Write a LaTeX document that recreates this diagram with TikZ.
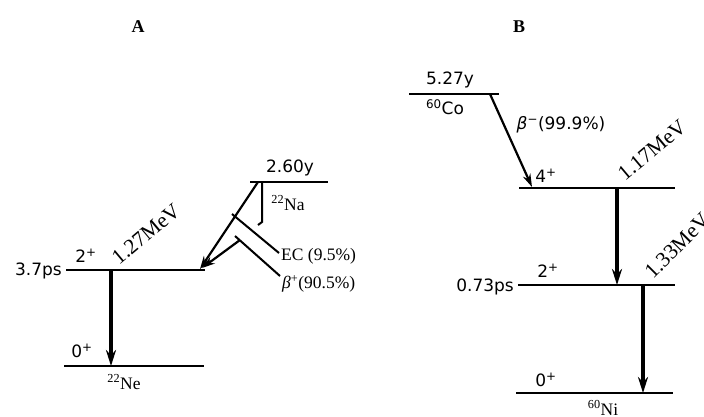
\documentclass[tikz,border=0pt]{standalone}
\usepackage{fontspec}
\setmainfont{Liberation Serif}
\newfontfamily\sansf{DejaVu Sans}
\usetikzlibrary{arrows.meta}
\begin{document}
\begin{tikzpicture}[x=1pt,y=-1pt,
  level/.style={line width=2.8pt},
  trans/.style={line width=3.2pt,-{Stealth[length=16pt,width=10pt]}},
  decay/.style={line width=2.2pt,-{Stealth[length=13pt,width=8pt]}},
  tick/.style={line width=2pt},
  lbl/.style={inner sep=0pt,font=\fontsize{17.5}{20}\selectfont},
  mev/.style={inner sep=0pt,font=\fontsize{21.5}{24}\selectfont},
  slbl/.style={inner sep=0pt,font=\sansf\fontsize{17}{20}\selectfont},
  head/.style={inner sep=0pt,font=\bfseries\fontsize{18}{20}\selectfont},
]
\useasboundingbox (0,0) rectangle (704,416);
% headers
\node[head] (hA) at (138,27) {A};
\node[head] (hB) at (519,27) {B};
% ---------- A ----------
\coordinate (a2l) at (66,270);  \coordinate (a2r) at (205,270);
\coordinate (a0l) at (64,366);  \coordinate (a0r) at (204,366);
\draw[level] (a2l) -- (a2r);
\draw[level] (a0l) -- (a0r);
\coordinate (a2m) at (111,270); \coordinate (a0m) at (111,366);
\draw[trans] (a2m) -- (a0m);
\node[slbl,anchor=east] (t37) at (62,271) {3.7ps};
\node[slbl] (sA2) at (86,256) {2\textsuperscript{+}};
\node[slbl] (sA0) at (82,351) {0\textsuperscript{+}};
\node[lbl] (ne) at (124,382) {\textsuperscript{22}Ne};
\node[mev,rotate=40] (e127) at (146,234) {1.27MeV};
% Na level
\coordinate (nal) at (250,182); \coordinate (nar) at (328,182);
\draw[level] (nal) -- (nar);
\node[slbl] (t260) at (290,168) {2.60y};
\node[lbl] (na) at (288,203) {\textsuperscript{22}Na};
\coordinate (naA) at (258,182); \coordinate (tipA) at (200,269);
\draw[decay] (naA) -- (tipA);
\coordinate (naV) at (262,182); \coordinate (naVb) at (262,222); \coordinate (naVh) at (258,225);
\draw[tick] (naV) -- (naVb) -- (naVh);
\coordinate (ecs) at (232,214); \coordinate (ece) at (279,253);
\draw[tick] (ecs) -- (ece);
\coordinate (bps) at (235,236); \coordinate (bpe) at (280,276);
\draw[tick] (bps) -- (bpe);
\coordinate (bpa) at (240,240); \coordinate (tipB) at (202,268);
\draw[decay] (bpa) -- (tipB);
\node[lbl,anchor=west] (ec) at (281,256) {EC (9.5\%)};
\node[lbl,anchor=west] (bp) at (282,284) {\textit{β}\textsuperscript{+}(90.5\%)};
% ---------- B ----------
\coordinate (col) at (409,94); \coordinate (cor) at (499,94);
\draw[level] (col) -- (cor);
\node[slbl] (t527) at (450,80) {5.27y};
\node[slbl] (co) at (445,107) {\textsuperscript{60}Co};
\coordinate (b4l) at (519,188); \coordinate (b4r) at (675,188);
\draw[level] (b4l) -- (b4r);
\coordinate (cos) at (490,94); \coordinate (cot) at (532,187);
\draw[decay] (cos) -- (cot);
\node[slbl] (bm) at (561,125) {\textit{β}\textsuperscript{−}(99.9\%)};
\node[slbl] (sB4) at (546,176) {4\textsuperscript{+}};
\node[mev,rotate=40] (e117) at (652,150) {1.17MeV};
\coordinate (b2l) at (518,285); \coordinate (b2r) at (675,285);
\draw[level] (b2l) -- (b2r);
\coordinate (b4m) at (617,188); \coordinate (b2m) at (617,285);
\draw[trans] (b4m) -- (b2m);
\node[slbl,anchor=east] (t073) at (514,287) {0.73ps};
\node[slbl] (sB2) at (548,271) {2\textsuperscript{+}};
\node[mev,rotate=45] (e133) at (677,246) {1.33MeV};
\coordinate (b0l) at (516,393); \coordinate (b0r) at (673,393);
\draw[level] (b0l) -- (b0r);
\coordinate (b2n) at (643,285); \coordinate (b0n) at (643,393);
\draw[trans] (b2n) -- (b0n);
\node[slbl] (sB0) at (546,380) {0\textsuperscript{+}};
\node[lbl] (ni) at (603,408) {\textsuperscript{60}Ni};
\end{tikzpicture}
\end{document}
